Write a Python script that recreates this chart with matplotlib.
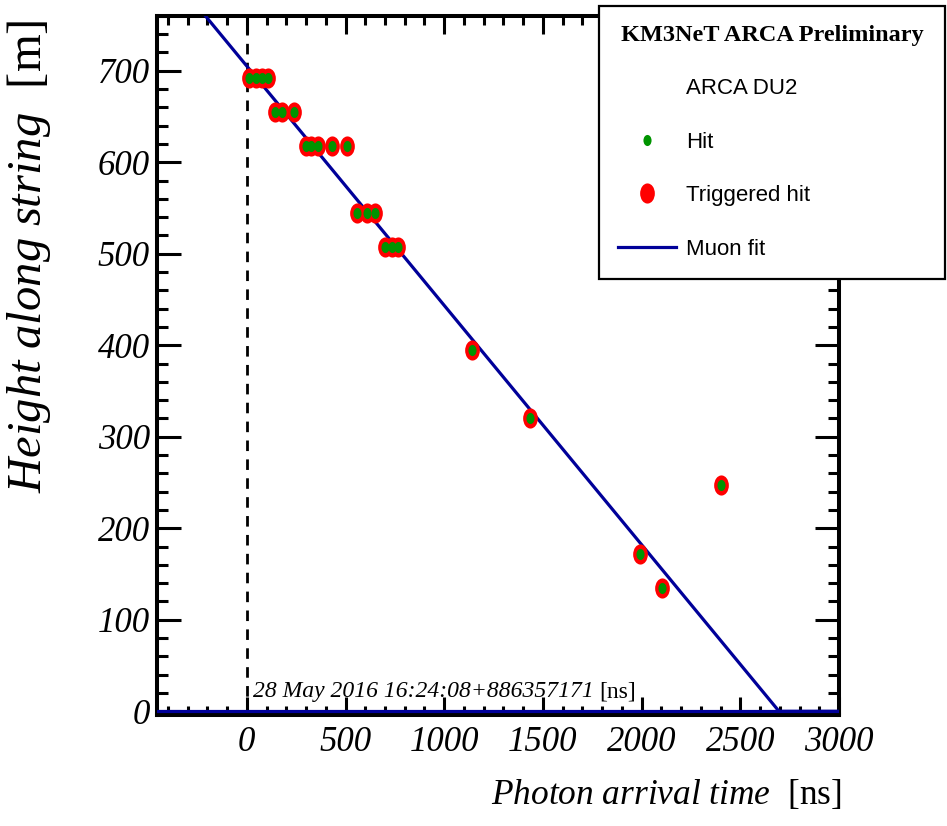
import numpy as np
import matplotlib
matplotlib.use("Agg")
import matplotlib.pyplot as plt
from matplotlib.path import Path
from matplotlib.transforms import Affine2D
from matplotlib.lines import Line2D
from matplotlib.ticker import MultipleLocator
from matplotlib import font_manager

# ---- event data: photon arrival time [ns] and DOM height [m] ----
hit_time = [10, 45, 75, 105,
            143, 180, 241,
            298, 325, 360, 432, 507,
            559, 608, 650,
            700, 733, 766,
            1143, 1434, 1992, 2102, 2400]
hit_height = [692, 692, 692, 692,
              655, 655, 655,
              618, 618, 618, 618, 618,
              544, 544, 544,
              507, 507, 507,
              395, 321, 172, 135, 247]
trig_time = hit_time
trig_height = hit_height

# muon track fit: height at t = 0 and apparent vertical speed
fit_z0 = 705.0      # m
fit_speed = 0.2615  # m/ns

legend_labels = ["ARCA DU2", "Hit", "Triggered hit", "Muon fit"]
legend_title = "KM3NeT ARCA Preliminary"
event_stamp = "28 May 2016 16:24:08+886357171"

RED = "#ff0000"
GREEN = "#009400"
BLUE = "#000099"

installed = {f.name for f in font_manager.fontManager.ttflist}
SANS = "Liberation Sans Narrow" if "Liberation Sans Narrow" in installed else "Liberation Sans"
SERIF = "Liberation Serif"

plt.rcParams["mathtext.fontset"] = "custom"
plt.rcParams["mathtext.rm"] = SERIF
plt.rcParams["mathtext.it"] = SERIF + ":italic"
plt.rcParams["font.family"] = [SERIF, "DejaVu Sans"]

# slightly tall ellipse used as the hit marker
_c = Path.unit_circle()
ELLIPSE = Path(Affine2D().scale(0.73, 1.0).transform(_c.vertices), _c.codes)

fig = plt.figure(figsize=(9.47, 8.26), dpi=100)
ax = fig.add_axes([0.1658, 0.1340, 0.7202, 0.8470])

xmin, xmax = -455, 3000
ymin, ymax = -4.4, 760.1
ax.set_xlim(xmin, xmax)
ax.set_ylim(ymin, ymax)

# fitted track, flat at zero height once it reaches the bottom of the string
t_grid = np.linspace(xmin, xmax, 2000)
z_fit = np.maximum(fit_z0 - fit_speed * t_grid, 0.0)
fit_line, = ax.plot(t_grid, z_fit, color=BLUE, lw=2.3, zorder=3)
ax.axhline(0, color=BLUE, lw=2.3, zorder=3)

# event start marker
ax.axvline(0, color="black", lw=2.0, ls=(0, (3.8, 3.0)), zorder=2)

trig_art, = ax.plot(trig_time, trig_height, ls="none", marker=ELLIPSE,
                    ms=14.5, mfc=RED, mec="none", zorder=4)
hit_art, = ax.plot(hit_time, hit_height, ls="none", marker=ELLIPSE,
                   ms=8.0, mfc=GREEN, mec="none", zorder=5)

# axes styling (ticks inside on all four sides)
ax.xaxis.set_major_locator(MultipleLocator(500))
ax.xaxis.set_minor_locator(MultipleLocator(100))
ax.yaxis.set_major_locator(MultipleLocator(100))
ax.yaxis.set_minor_locator(MultipleLocator(20))
ax.tick_params(which="both", direction="in", top=True, right=True,
               width=2.2, color="black")
ax.tick_params(axis="x", which="major", length=13, pad=8, labelsize=25)
ax.tick_params(axis="x", which="minor", length=6.3)
ax.tick_params(axis="y", which="major", length=17, pad=5, labelsize=25)
ax.tick_params(axis="y", which="minor", length=8)
for sp in ax.spines.values():
    sp.set_linewidth(2.9)
for lbl in ax.get_xticklabels() + ax.get_yticklabels():
    lbl.set_fontfamily(SERIF)
    lbl.set_fontstyle("italic")

ax.set_xlabel(r"$\mathit{Photon\ arrival\ time}$  [ns]", fontsize=25.5, loc="right")
ax.xaxis.set_label_coords(1.0044, -0.0896)
ax.set_ylabel(r"$\mathit{Height\ along\ string}$  [m]", fontsize=35, loc="top")
ax.yaxis.set_label_coords(-0.152, 0.994)

# time stamp of the event
stamp = ax.text(0.1406, 0.026, event_stamp, transform=ax.transAxes,
                fontsize=17, fontstyle="italic", family=SERIF,
                ha="left", va="baseline", zorder=6)
ax.annotate("[ns]", xy=(1, 0), xycoords=stamp, xytext=(4, 0),
            textcoords="offset points", fontsize=17, family=SERIF,
            ha="left", va="bottom", zorder=6)

blank = Line2D([], [], ls="none")
leg = ax.legend([blank, hit_art, trig_art, fit_line], legend_labels,
                loc="upper left",
                bbox_to_anchor=(599 / 947, 1 - 6 / 826, 346 / 947, 0),
                bbox_transform=fig.transFigure, mode="expand",
                borderaxespad=0, frameon=True, fancybox=False,
                edgecolor="black", framealpha=1, numpoints=1,
                prop=dict(family=SANS, size=16),
                title=legend_title,
                title_fontproperties=dict(family=SERIF, weight="bold", size=17.5),
                borderpad=0.85, labelspacing=1.46, handlelength=2.6,
                handletextpad=0.45)
leg.get_frame().set_linewidth(1.6)
leg.set_zorder(10)

fig.savefig("out.png", dpi=100)
